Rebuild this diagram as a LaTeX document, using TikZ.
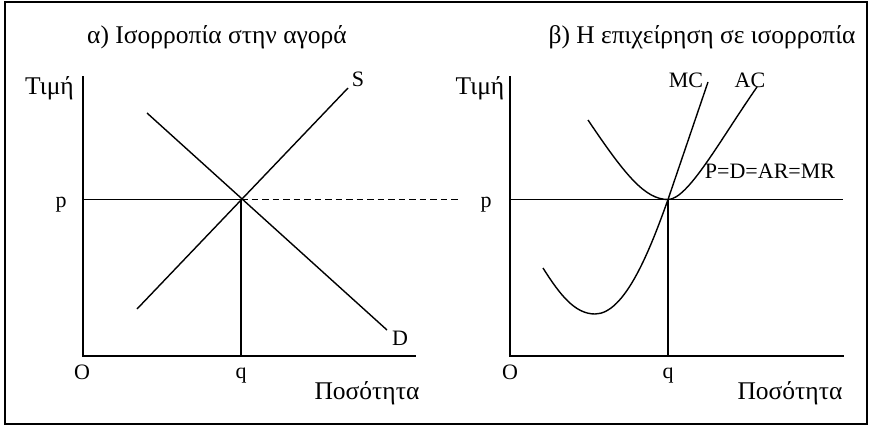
\documentclass[tikz,border=0pt]{standalone}
\usepackage{fontspec}
\setmainfont{Liberation Serif}
\begin{document}
\begin{tikzpicture}[x=1pt,y=-1pt,
  lbl/.style={font=\fontsize{22}{26}\selectfont, inner sep=0pt, anchor=base},
  glbl/.style={font=\fontsize{25.5}{30}\selectfont, inner sep=0pt, anchor=base},
  ax/.style={line width=1.3pt, line cap=rect},
  curve/.style={line width=1.4pt},
  guide/.style={line width=1.2pt},
  dsh/.style={line width=1.1pt, dash pattern=on 6.5pt off 4pt}]
\useasboundingbox (0,0) rectangle (872,426);
\draw[line width=1.8pt] (5,2) rectangle (867,424);

% ---------- left panel ----------
\node[glbl] (tA) at (217,43) {α) Ισορροπία στην αγορά};
\node[glbl] (yA) at (49.5,94) {Τιμή};
\node[lbl] (pA) at (61,207) {p};
\node[lbl] (oA) at (82,379) {O};
\node[lbl] (qA) at (241,378) {q};
\node[glbl] (xA) at (367,399) {Ποσότητα};
\node[lbl] (sA) at (358,86) {S};
\node[lbl] (dA) at (400,345) {D};

\coordinate (A0) at (83,356);
\coordinate (Atop) at (83,77);
\coordinate (Aright) at (415,356);
\coordinate (Ap) at (83,199.5);
\coordinate (Ae) at (241,199.5);
\coordinate (Aq) at (241,356);
\coordinate (Adash) at (461,199.5);
\coordinate (S1) at (137,309);
\coordinate (S2) at (348,88);
\coordinate (D1) at (147,113);
\coordinate (D2) at (387,330);

\draw[ax] (Atop) -- (A0) -- (Aright);
\draw[guide] (Ap) -- (Ae);
\draw[guide] (Ae) -- (Aq);
\draw[dsh] (Ae) -- (Adash);
\draw[curve] (S1) -- (S2);
\draw[curve] (D1) -- (D2);

% ---------- right panel ----------
\node[glbl] (tB) at (702,43) {β) Η επιχείρηση σε ισορροπία};
\node[glbl] (yB) at (480,94) {Τιμή};
\node[lbl] (pB) at (486,207) {p};
\node[lbl] (oB) at (510,379) {O};
\node[lbl] (qB) at (668,378) {q};
\node[glbl] (xB) at (790,399) {Ποσότητα};
\node[lbl] (mcB) at (686,87) {MC};
\node[lbl] (acB) at (750,87) {AC};
\node[lbl] (prB) at (770,178) {P=D=AR=MR};

\coordinate (B0) at (510,356);
\coordinate (Btop) at (510,77);
\coordinate (Bright) at (843,356);
\coordinate (Bp) at (510,199.5);
\coordinate (Bpr) at (843,199.5);
\coordinate (Be) at (668,199.5);
\coordinate (Bq) at (668,356);

\draw[ax] (Btop) -- (B0) -- (Bright);
\draw[guide] (Bp) -- (Bpr);
\draw[guide] (Be) -- (Bq);
% AC
\draw[curve] (588,120) .. controls (625,175) and (645,199.5) .. (Be)
  .. controls (688,199.5) and (720,140) .. (757,87);
% MC
\draw[curve] (543,268) .. controls (560,295) and (575,314) .. (595,314)
  .. controls (625,314) and (650,250) .. (Be) -- (708,82);
\end{tikzpicture}
\end{document}
